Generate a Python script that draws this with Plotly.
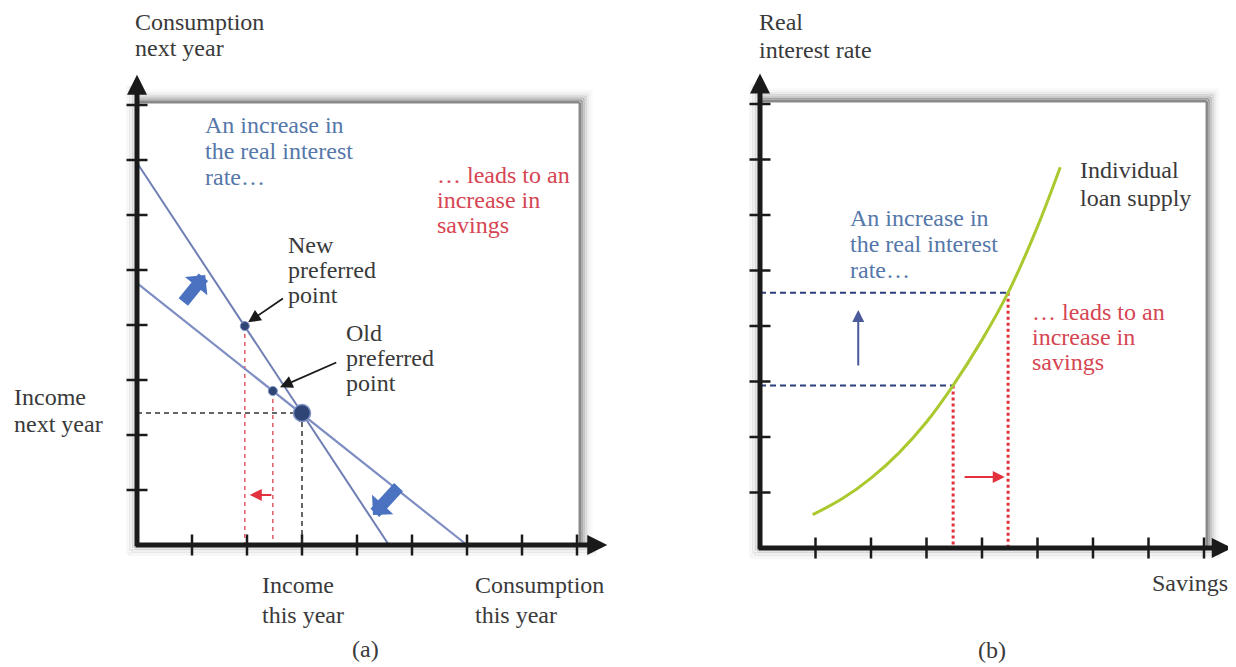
import plotly.graph_objects as go

# ---------------- Panel (a): budget lines and preferred points ----------------
old_budget_x = [0.0, 6.0]
old_budget_y = [4.76, 0.0]
new_budget_x = [0.0, 4.58]
new_budget_y = [6.95, 0.0]
endowment_x = [3.0]          # income this year
endowment_y = [2.4]          # income next year
preferred_x = [1.96, 2.47]   # new, old preferred point
preferred_y = [3.98, 2.80]

# ---------------- Panel (b): individual loan supply ----------------
savings = [0.95, 1.5, 2.0, 2.5, 3.0, 3.48, 4.0, 4.5, 5.0, 5.41]
real_rate = [0.60, 0.90, 1.26, 1.71, 2.27, 2.93, 3.75, 4.66, 5.79, 6.86]
savings_levels = [3.48, 4.47]   # old, new
rate_levels = [2.93, 4.60]      # old, new

tick_values = [1, 2, 3, 4, 5, 6, 7, 8]

# ---------------- text ----------------
a_ylabel = ["Consumption", "next year"]
a_income_next = ["Income", "next year"]
a_income_this = ["Income", "this year"]
a_cons_this = ["Consumption", "this year"]
a_blue = ["An increase in", "the real interest", "rate…"]
a_red = ["… leads to an", "increase in", "savings"]
a_new = ["New", "preferred", "point"]
a_old = ["Old", "preferred", "point"]
b_ylabel = ["Real", "interest rate"]
b_xlabel = ["Savings"]
b_curve = ["Individual", "loan supply"]
b_blue = ["An increase in", "the real interest", "rate…"]
b_red = ["… leads to an", "increase in", "savings"]
panel_names = ["(a)", "(b)"]

FONT = "Liberation Serif, Times New Roman, serif"
TXT = "#3a3a3a"
BLUE_TXT = "#5577aa"
RED_TXT = "#d64552"
BUDGET = "#7f8ec2"
NAVY = "#2f4576"
FAT = "#4a72c0"
RED = "#e2303c"
DASHBLUE = "#2e3f7f"

PAGE = 8.0   # page body margin in front of the figure
W, H = 1236 - int(PAGE), 667 - int(PAGE)
FRAME = 8.05
AXEND = [8.55, 8.50]

P = [
    dict(x="x", y="y", ox=137.0 - PAGE, oy=545.0 - PAGE, s=55.0, xd=[0.0, 0.5]),
    dict(x="x2", y="y2", ox=760.0 - PAGE, oy=548.0 - PAGE, s=55.5, xd=[0.5, 1.0]),
]

fig = go.Figure()


def line(xs, ys, p, color, width, dash=None, shape="linear"):
    fig.add_trace(go.Scatter(
        x=xs, y=ys, xaxis=p["x"], yaxis=p["y"], mode="lines",
        line=dict(color=color, width=width, dash=dash, shape=shape),
        hoverinfo="skip", showlegend=False, cliponaxis=False))


def arrow(x0, y0, x1, y1, p, color, width, head, size):
    fig.add_annotation(
        x=x1, y=y1, ax=x0, ay=y0, xref=p["x"], yref=p["y"],
        axref=p["x"], ayref=p["y"], text="", showarrow=True,
        arrowhead=head, arrowsize=size, arrowwidth=width,
        arrowcolor=color, standoff=0, startstandoff=0)


def text_lines(lines, x, y0, p, color, dy_px=26, anchor="left", size=24):
    for i, t in enumerate(lines):
        fig.add_annotation(
            x=x, y=y0 - i * dy_px / p["s"], xref=p["x"], yref=p["y"],
            text=t, showarrow=False, xanchor=anchor, yanchor="middle",
            font=dict(family=FONT, size=size, color=color))


# ---------- frames, shadows, axes, ticks (both panels) ----------
for p, axend in zip(P, AXEND):
    s = p["s"]
    for k, a in enumerate([0.32, 0.22, 0.14, 0.08, 0.04, 0.02]):
        off = (k + 1) * 2.0 / s
        c = "rgba(0,0,0,%.2f)" % a
        line([0, FRAME + off], [FRAME + off, FRAME + off], p, c, 2.2)
        line([FRAME + off, FRAME + off], [0, FRAME + off], p, c, 2.2)
    line([0, FRAME], [FRAME, FRAME], p, "#8a8a8a", 2.5)
    line([FRAME, FRAME], [0, FRAME], p, "#8a8a8a", 2.5)
    for k, a in enumerate([0.10, 0.06, 0.03]):
        off = (k + 1) * 3.0 / s
        c = "rgba(0,0,0,%.2f)" % a
        line([-off, -off], [-off, 8.35], p, c, 4)
        line([-off, axend - 0.2], [-off, -off], p, c, 4)
    fig.add_trace(go.Scatter(
        x=tick_values, y=[0] * len(tick_values), xaxis=p["x"], yaxis=p["y"],
        mode="markers", marker=dict(symbol="line-ns", size=15,
                                    line=dict(color="#1a1a1a", width=2.5)),
        hoverinfo="skip", showlegend=False, cliponaxis=False))
    fig.add_trace(go.Scatter(
        x=[0] * len(tick_values), y=tick_values, xaxis=p["x"], yaxis=p["y"],
        mode="markers", marker=dict(symbol="line-ew", size=15,
                                    line=dict(color="#1a1a1a", width=2.5)),
        hoverinfo="skip", showlegend=False, cliponaxis=False))
    arrow(-0.05, 0, axend, 0, p, "#1a1a1a", 5, 2, 0.8)
    arrow(0, -0.05, 0, 8.55, p, "#1a1a1a", 5, 2, 0.8)

pa, pb = P

# ---------- Panel (a) ----------
line([0, endowment_x[0]], [endowment_y[0], endowment_y[0]], pa, "#333333", 1.5, dash="5px,4px")
line([endowment_x[0], endowment_x[0]], [endowment_y[0], 0], pa, "#333333", 1.5, dash="5px,4px")
for px_, py_ in zip(preferred_x, preferred_y):
    line([px_, px_], [py_, 0], pa, "#e05a66", 1.5, dash="4px,4px")
line(old_budget_x, old_budget_y, pa, BUDGET, 2.2)
line(new_budget_x, new_budget_y, pa, "#6f7fb4", 2.0)
fig.add_trace(go.Scatter(
    x=preferred_x, y=preferred_y, xaxis="x", yaxis="y", mode="markers",
    marker=dict(size=9, color=NAVY, line=dict(color="#7f93c4", width=1)),
    hoverinfo="skip", showlegend=False, cliponaxis=False))
fig.add_trace(go.Scatter(
    x=endowment_x, y=endowment_y, xaxis="x", yaxis="y", mode="markers",
    marker=dict(size=17, color=NAVY, line=dict(color="#7f93c4", width=1.5)),
    hoverinfo="skip", showlegend=False, cliponaxis=False))
# fat blue arrows (budget line rotates)
arrow(0.82, 4.39, 1.24, 4.91, pa, FAT, 12, 1, 0.4)
arrow(4.78, 1.08, 4.29, 0.545, pa, FAT, 12, 1, 0.4)
# small red arrow (savings rise)
arrow(preferred_x[1], 0.91, preferred_x[0] + 0.09, 0.91, pa, RED, 2, 2, 1.2)
# pointer arrows
arrow(2.68, 4.50, preferred_x[0] + 0.06, preferred_y[0] + 0.07, pa, "#1a1a1a", 1.8, 2, 1.4)
arrow(3.65, 3.33, preferred_x[1] + 0.13, preferred_y[1] + 0.07, pa, "#1a1a1a", 1.8, 2, 1.4)

text_lines(a_ylabel, -0.07, 9.51, pa, TXT)
text_lines(a_income_next, -2.27, 2.69, pa, TXT, dy_px=27)
text_lines(a_income_this, 2.24, -0.73, pa, TXT, dy_px=30)
text_lines(a_cons_this, 6.11, -0.73, pa, TXT, dy_px=30)
text_lines(a_blue, 1.2, 7.64, pa, BLUE_TXT)
text_lines(a_red, 5.42, 6.73, pa, RED_TXT, dy_px=25)
text_lines(a_new, 2.71, 5.45, pa, TXT, dy_px=25)
text_lines(a_old, 3.76, 3.85, pa, TXT, dy_px=25)
text_lines([panel_names[0]], 4.15, -1.89, pa, TXT, anchor="center")

# ---------- Panel (b) ----------
for sv, rv in zip(savings_levels, rate_levels):
    line([0, sv], [rv, rv], pb, DASHBLUE, 2, dash="6px,4px")
    line([sv, sv], [rv, 0], pb, RED, 3, dash="dot")
line(savings, real_rate, pb, "#a9c92e", 3, shape="spline")
arrow(1.77, 3.26, 1.77, 4.29, pb, "#4a5a9a", 2, 2, 1.2)
arrow(3.66, 1.28, 4.41, 1.28, pb, RED, 2, 2, 1.2)

text_lines(b_ylabel, -0.05, 9.48, pb, TXT, dy_px=28)
text_lines(b_xlabel, 8.47, -0.63, pb, TXT, anchor="right")
text_lines(b_curve, 5.73, 6.81, pb, TXT, dy_px=28)
text_lines(b_blue, 1.59, 5.95, pb, BLUE_TXT)
text_lines(b_red, 4.86, 4.25, pb, RED_TXT, dy_px=25)
text_lines([panel_names[1]], 4.18, -1.84, pb, TXT, anchor="center")

# ---------- layout: axes scaled so that one tick = s pixels ----------
lay = dict(width=W, height=H, margin=dict(l=0, r=0, t=0, b=0, pad=0),
           paper_bgcolor="white", plot_bgcolor="white", showlegend=False)
for i, p in enumerate(P):
    x0 = p["xd"][0] * W
    x1 = p["xd"][1] * W
    xr = [(x0 - p["ox"]) / p["s"], (x1 - p["ox"]) / p["s"]]
    yr = [(p["oy"] - H) / p["s"], p["oy"] / p["s"]]
    sfx = "" if i == 0 else "2"
    lay["xaxis" + sfx] = dict(domain=p["xd"], range=xr, visible=False,
                              fixedrange=True, anchor="y" + sfx)
    lay["yaxis" + sfx] = dict(domain=[0, 1], range=yr, visible=False,
                              fixedrange=True, anchor="x" + sfx)
fig.update_layout(**lay)

fig.write_html("out.html")
